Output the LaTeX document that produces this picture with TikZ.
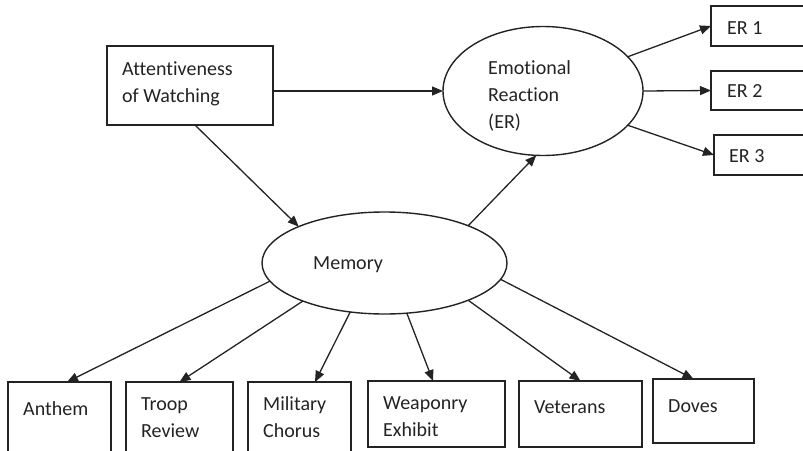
\documentclass[tikz,border=0pt]{standalone}
\usepackage{fontspec}
\setmainfont{Carlito}[Ligatures=NoCommon]
\usetikzlibrary{arrows.meta,shapes.geometric,calc}
\definecolor{ink}{RGB}{35,35,35}
\begin{document}
\begin{tikzpicture}[x=1pt,y=-1pt,
  box/.style={draw=ink,line width=1.5pt,rectangle,inner sep=0pt,outer sep=0pt,anchor=north west},
  oval/.style={draw=ink,line width=1.4pt,ellipse,inner sep=0pt,outer sep=0pt},
  txt/.style={anchor=base west,inner sep=0pt,text=ink,font=\fontsize{20}{27}\selectfont,align=left},
  arr/.style={draw=ink,line width=1.3pt,-{Triangle[length=11pt,width=9pt]}}]
\useasboundingbox (0,0) rectangle (803,450);
% boxes
\node[box,minimum width=166pt,minimum height=79pt] (att) at (107,46) {};
\node[box,minimum width=110pt,minimum height=40pt] (er1) at (711,6) {};
\node[box,minimum width=110pt,minimum height=39pt] (er2) at (711,71) {};
\node[box,minimum width=110pt,minimum height=40pt] (er3) at (714,135) {};
\node[box,minimum width=103pt,minimum height=80pt] (anthem) at (8,382) {};
\node[box,minimum width=107pt,minimum height=80pt] (troop) at (126,382) {};
\node[box,minimum width=103pt,minimum height=80pt] (mil) at (248,382) {};
\node[box,minimum width=137pt,minimum height=66pt] (weap) at (368,381) {};
\node[box,minimum width=123pt,minimum height=66pt] (vet) at (519,381) {};
\node[box,minimum width=101pt,minimum height=64pt] (doves) at (653,379) {};
% ovals
\node[oval,minimum width=200pt,minimum height=129pt] (er) at (543,91) {};
\node[oval,minimum width=245pt,minimum height=102pt] (mem) at (384.5,263) {};
% texts (base anchor = last line)
\node[txt] (t-att) at (122,102) {Attentiveness\\of Watching};
\node[txt] (t-er) at (488,128) {Emotional\\Reaction\\(ER)};
\node[txt] (t-er1) at (727,34) {ER 1};
\node[txt] (t-er2) at (727,97) {ER 2};
\node[txt] (t-er3) at (729,162) {ER 3};
\node[txt] (t-mem) at (313,269) {Memory};
\node[txt] (t-anthem) at (23,415) {Anthem};
\node[txt] (t-troop) at (141,437) {Troop\\Review};
\node[txt] (t-mil) at (263,437) {Military\\Chorus};
\node[txt] (t-weap) at (383,436) {Weaponry\\Exhibit};
\node[txt] (t-vet) at (534,413) {Veterans};
\node[txt] (t-doves) at (668,412) {Doves};
% connectors
\draw[arr] (att.east |- er.west) -- (er.west);
\draw[arr] ($(att.south west)!0.53!(att.south east)$) -- (mem.157);
\draw[arr] (mem.24) -- (er.264);
\draw[arr] (er.22.6) -- (er1.west);
\draw[arr] (er.east) -- (er2.west);
\draw[arr] (er.-22.6) -- (er3.west);
\draw[arr] (mem.189) -- ([xshift=7.5pt]anthem.north);
\draw[arr] (mem.205) -- (troop.north);
\draw[arr] (mem.235) -- ([xshift=15.5pt]mil.north);
\draw[arr] (mem.294) -- ([xshift=-3.5pt]weap.north);
\draw[arr] (mem.336) -- (vet.north);
\draw[arr] (mem.352) -- ([xshift=-10pt]doves.north);
\end{tikzpicture}
\end{document}
